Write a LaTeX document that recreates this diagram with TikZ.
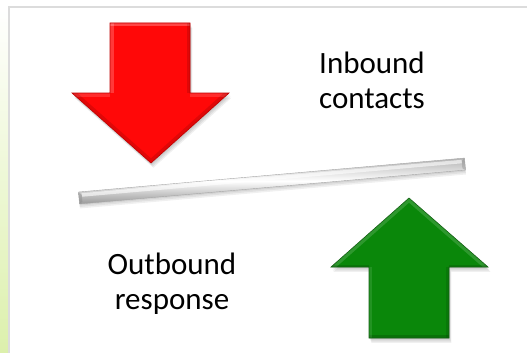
\documentclass[tikz,border=0pt]{standalone}
\usepackage{fontspec}
\setmainfont{Carlito}
\usetikzlibrary{calc}
\definecolor{redarrow}{RGB}{255,8,8}
\definecolor{rededge}{RGB}{190,0,0}
\definecolor{greenarrow}{RGB}{10,135,10}
\definecolor{greenedge}{RGB}{20,95,20}
\definecolor{framegray}{RGB}{220,220,220}
\definecolor{stripgreen}{RGB}{220,240,172}
\tikzset{
  label text/.style={font=\fontsize{31}{35}\selectfont, align=center, text=black, inner sep=0pt},
  arrow shadow/.style={fill=black, opacity=0.06},
}
\begin{document}
\begin{tikzpicture}[x=1pt,y=-1pt]
\useasboundingbox (0,0) rectangle (527,353);
\fill[white] (0,0) rectangle (527,353);
% left strip: white at top, light green at bottom
\shade[top color=white, bottom color=stripgreen] (0,7) rectangle (8.5,353);
% frame
\draw[framegray, line width=1.5pt] (9,353) -- (9,7) -- (528,7);
% red arrow
\foreach \d in {1,2,3,4}{
  \fill[arrow shadow, shift={(\d*0.6,\d*1.2)}] (110,23) -- (190,23) -- (190,93) -- (229,93) -- (151,163) -- (72,93) -- (110,93) -- cycle;
}
\fill[redarrow] (110,23) -- (190,23) -- (190,93) -- (229,93) -- (151,163) -- (72,93) -- (110,93) -- cycle;
\begin{scope}
  \clip (110,23) -- (190,23) -- (190,93) -- (229,93) -- (151,163) -- (72,93) -- (110,93) -- cycle;
  \draw[white, opacity=0.25, line width=7pt] (110,23) -- (190,23);
  \draw[white, opacity=0.2, line width=7pt] (110,23) -- (110,93);
  \draw[black, opacity=0.12, line width=7pt] (190,23) -- (190,93);
  \draw[white, opacity=0.15, line width=7pt] (72,93) -- (110,93);
  \draw[white, opacity=0.15, line width=7pt] (190,93) -- (229,93);
  \draw[black, opacity=0.12, line width=7pt] (229,93) -- (151,163) -- (72,93);
\end{scope}
\draw[rededge, line width=0.6pt] (110,23) -- (190,23) -- (190,93) -- (229,93) -- (151,163) -- (72,93) -- (110,93) -- cycle;
% green arrow
\foreach \d in {1,2,3,4}{
  \fill[arrow shadow, shift={(\d*0.6,\d*1.2)}] (369,338) -- (449,338) -- (449,267) -- (488,267) -- (409,198) -- (331,267) -- (369,267) -- cycle;
}
\fill[greenarrow] (369,338) -- (449,338) -- (449,267) -- (488,267) -- (409,198) -- (331,267) -- (369,267) -- cycle;
\begin{scope}
  \clip (369,338) -- (449,338) -- (449,267) -- (488,267) -- (409,198) -- (331,267) -- (369,267) -- cycle;
  \draw[white, opacity=0.15, line width=7pt] (331,267) -- (409,198) -- (488,267);
  \draw[black, opacity=0.15, line width=7pt] (369,338) -- (449,338);
  \draw[black, opacity=0.1, line width=6pt] (449,338) -- (449,267);
  \draw[white, opacity=0.1, line width=6pt] (369,338) -- (369,267);
  \draw[black, opacity=0.12, line width=5pt] (331,267) -- (369,267);
  \draw[black, opacity=0.12, line width=5pt] (449,267) -- (488,267);
\end{scope}
\draw[greenedge, line width=0.6pt] (369,338) -- (449,338) -- (449,267) -- (488,267) -- (409,198) -- (331,267) -- (369,267) -- cycle;
% bar
\begin{scope}[shift={(79,198)}, rotate=5.03]
  \foreach \d in {1,2,3}{
    \fill[black, opacity=0.06, shift={(0,\d*1.5)}] (0,-6) rectangle (387.5,6);
  }
  \shade[top color=gray!60, bottom color=gray!80, middle color=white] (0,-6) rectangle (387.5,6);
  \fill[white, opacity=0.6] (3,-4.5) rectangle (384.5,-1);
  \fill[gray, opacity=0.35] (0,-6) -- (3,-3) -- (3,4) -- (0,6) -- cycle;
  \fill[gray, opacity=0.35] (387.5,-6) -- (384.5,-3) -- (384.5,4) -- (387.5,6) -- cycle;
  \draw[gray!70, line width=0.4pt] (0,-6) rectangle (387.5,6);
\end{scope}
% texts
\node[label text] (inbound) at (372,80) {Inbound\\contacts};
\node[label text] (outbound) at (172,284) {Outbound\\response};
\end{tikzpicture}
\end{document}
